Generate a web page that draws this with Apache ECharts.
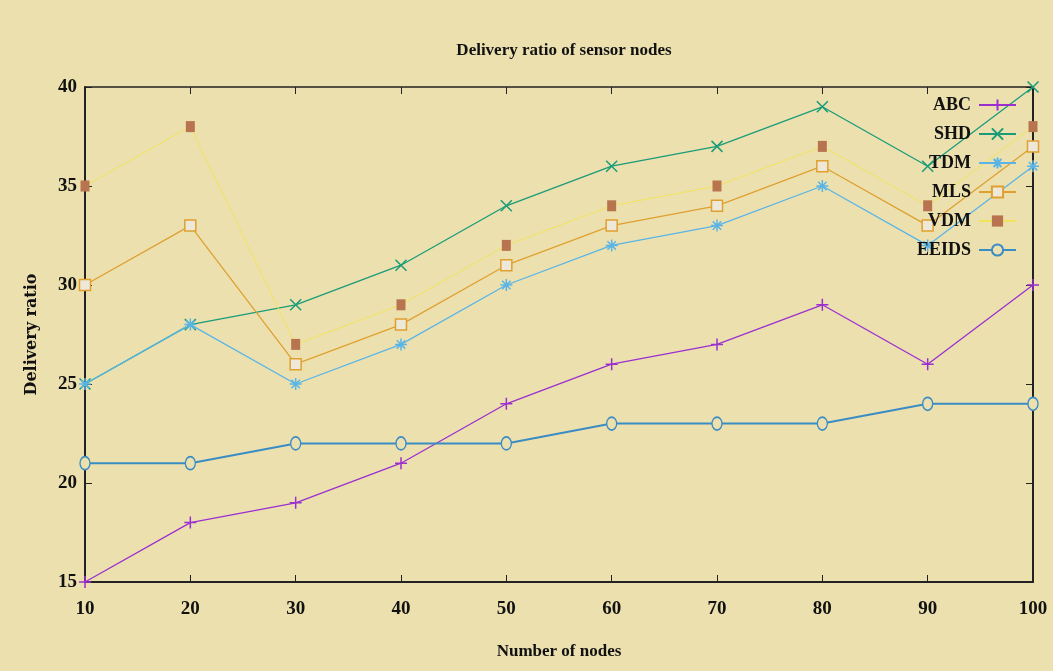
<!DOCTYPE html>
<html>
<head>
<meta charset="utf-8">
<script src="https://cdn.jsdelivr.net/npm/echarts@6/dist/echarts.min.js"></script>
<style>
html,body{margin:0;padding:0;background:#ece0af;}
#chart{width:1053px;height:671px;}
</style>
</head>
<body>
<div id="chart"></div>
<script>
var nodes = [10, 20, 30, 40, 50, 60, 70, 80, 90, 100];
var abc   = [15, 18, 19, 21, 24, 26, 27, 29, 26, 30];
var shd   = [25, 28, 29, 31, 34, 36, 37, 39, 36, 40];
var tdm   = [25, 28, 25, 27, 30, 32, 33, 35, 32, 36];
var mls   = [30, 33, 26, 28, 31, 33, 34, 36, 33, 37];
var vdm   = [35, 38, 27, 29, 32, 34, 35, 37, 34, 38];
var eeids = [21, 21, 22, 22, 22, 23, 23, 23, 24, 24];
var seriesNames = ['ABC', 'SHD', 'TDM', 'MLS', 'VDM', 'EEIDS'];

function pairs(arr){ return nodes.map(function(x,i){ return [x, arr[i]]; }); }

var PLUS = 'path://M5,0L5,10M0,5L10,5';
var CROSS = 'path://M0,0L10,10M10,0L0,10';
var STAR = 'path://M5,0L5,10M0,5L10,5M1.5,1.5L8.5,8.5M8.5,1.5L1.5,8.5';

function strokeSeries(name, data, color, symbol, size, lw){
  return {
    name: name, type: 'line', data: pairs(data),
    symbol: symbol, symbolSize: size,
    lineStyle: {color: color, width: lw},
    itemStyle: {color: 'rgba(0,0,0,0)', borderColor: color, borderWidth: 1.5},
    emphasis: {disabled: true}
  };
}

var chart = echarts.init(document.getElementById('chart'));
var axisFont = {fontFamily: 'Liberation Serif', fontWeight: 'bold', fontSize: 19, color: '#111'};
chart.setOption({
  backgroundColor: '#ece0af',
  animation: false,
  title: {
    text: 'Delivery ratio of sensor nodes',
    left: 559, top: 37, textAlign: 'center',
    textStyle: {fontFamily: 'Liberation Serif', fontWeight: 'bold', fontSize: 17, color: '#111'}
  },
  legend: {
    data: seriesNames,
    orient: 'vertical',
    right: 31, top: 91,
    align: 'right',
    itemWidth: 37, itemHeight: 14, itemGap: 11,
    textStyle: {fontFamily: 'Liberation Serif', fontWeight: 'bold', fontSize: 18, color: '#111', padding: [0, 3, 0, 0]}
  },
  grid: {left: 85, right: 20, top: 87, bottom: 89},
  xAxis: [{
    type: 'value', min: 10, max: 100, interval: 10,
    name: 'Number of nodes', nameLocation: 'middle', nameGap: 61,
    nameTextStyle: {fontFamily: 'Liberation Serif', fontWeight: 'bold', fontSize: 17, color: '#111'},
    axisLine: {show: true, lineStyle: {color: '#222', width: 2}},
    axisTick: {show: true, inside: true, length: 7, lineStyle: {color: '#222'}},
    axisLabel: Object.assign({margin: 18}, axisFont),
    splitLine: {show: false}
  }, {
    type: 'value', min: 10, max: 100, interval: 10, position: 'top',
    axisLine: {show: true, onZero: false, lineStyle: {color: '#222', width: 1.5}},
    axisTick: {show: true, inside: true, length: 7, lineStyle: {color: '#222'}},
    axisLabel: {show: false}, splitLine: {show: false}
  }],
  yAxis: [{
    type: 'value', min: 15, max: 40, interval: 5,
    name: 'Delivery ratio', nameLocation: 'middle', nameGap: 45,
    nameTextStyle: {fontFamily: 'DejaVu Serif', fontWeight: 'bold', fontSize: 16, color: '#111'},
    axisLine: {show: true, lineStyle: {color: '#222', width: 2}},
    axisTick: {show: true, inside: true, length: 7, lineStyle: {color: '#222'}},
    axisLabel: Object.assign({margin: 8}, axisFont),
    splitLine: {show: false}
  }, {
    type: 'value', min: 15, max: 40, interval: 5, position: 'right',
    axisLine: {show: true, onZero: false, lineStyle: {color: '#222', width: 2}},
    axisTick: {show: true, inside: true, length: 7, lineStyle: {color: '#222'}},
    axisLabel: {show: false}, splitLine: {show: false}
  }],
  series: [
    strokeSeries('ABC', abc, '#9b2fd0', PLUS, 12, 1.3),
    strokeSeries('SHD', shd, '#1a9c78', CROSS, 11, 1.3),
    strokeSeries('TDM', tdm, '#5ab5e6', STAR, 12, 1.3),
    {
      name: 'MLS', type: 'line', data: pairs(mls),
      symbol: 'rect', symbolSize: 11,
      lineStyle: {color: '#e0a030', width: 1.3},
      itemStyle: {color: '#eee8d8', borderColor: '#e0a030', borderWidth: 1.5},
      emphasis: {disabled: true}
    },
    {
      name: 'VDM', type: 'line', data: pairs(vdm),
      symbol: 'rect', symbolSize: [9, 11],
      lineStyle: {color: '#f2e45a', width: 1},
      itemStyle: {color: '#b8744e'},
      emphasis: {disabled: true}
    },
    {
      name: 'EEIDS', type: 'line', data: pairs(eeids),
      symbol: 'circle', symbolSize: [10, 13],
      lineStyle: {color: '#3a8cc4', width: 2},
      itemStyle: {color: '#ece0af', borderColor: '#3a8cc4', borderWidth: 1.5},
      emphasis: {disabled: true}
    }
  ]
});
</script>
</body>
</html>
